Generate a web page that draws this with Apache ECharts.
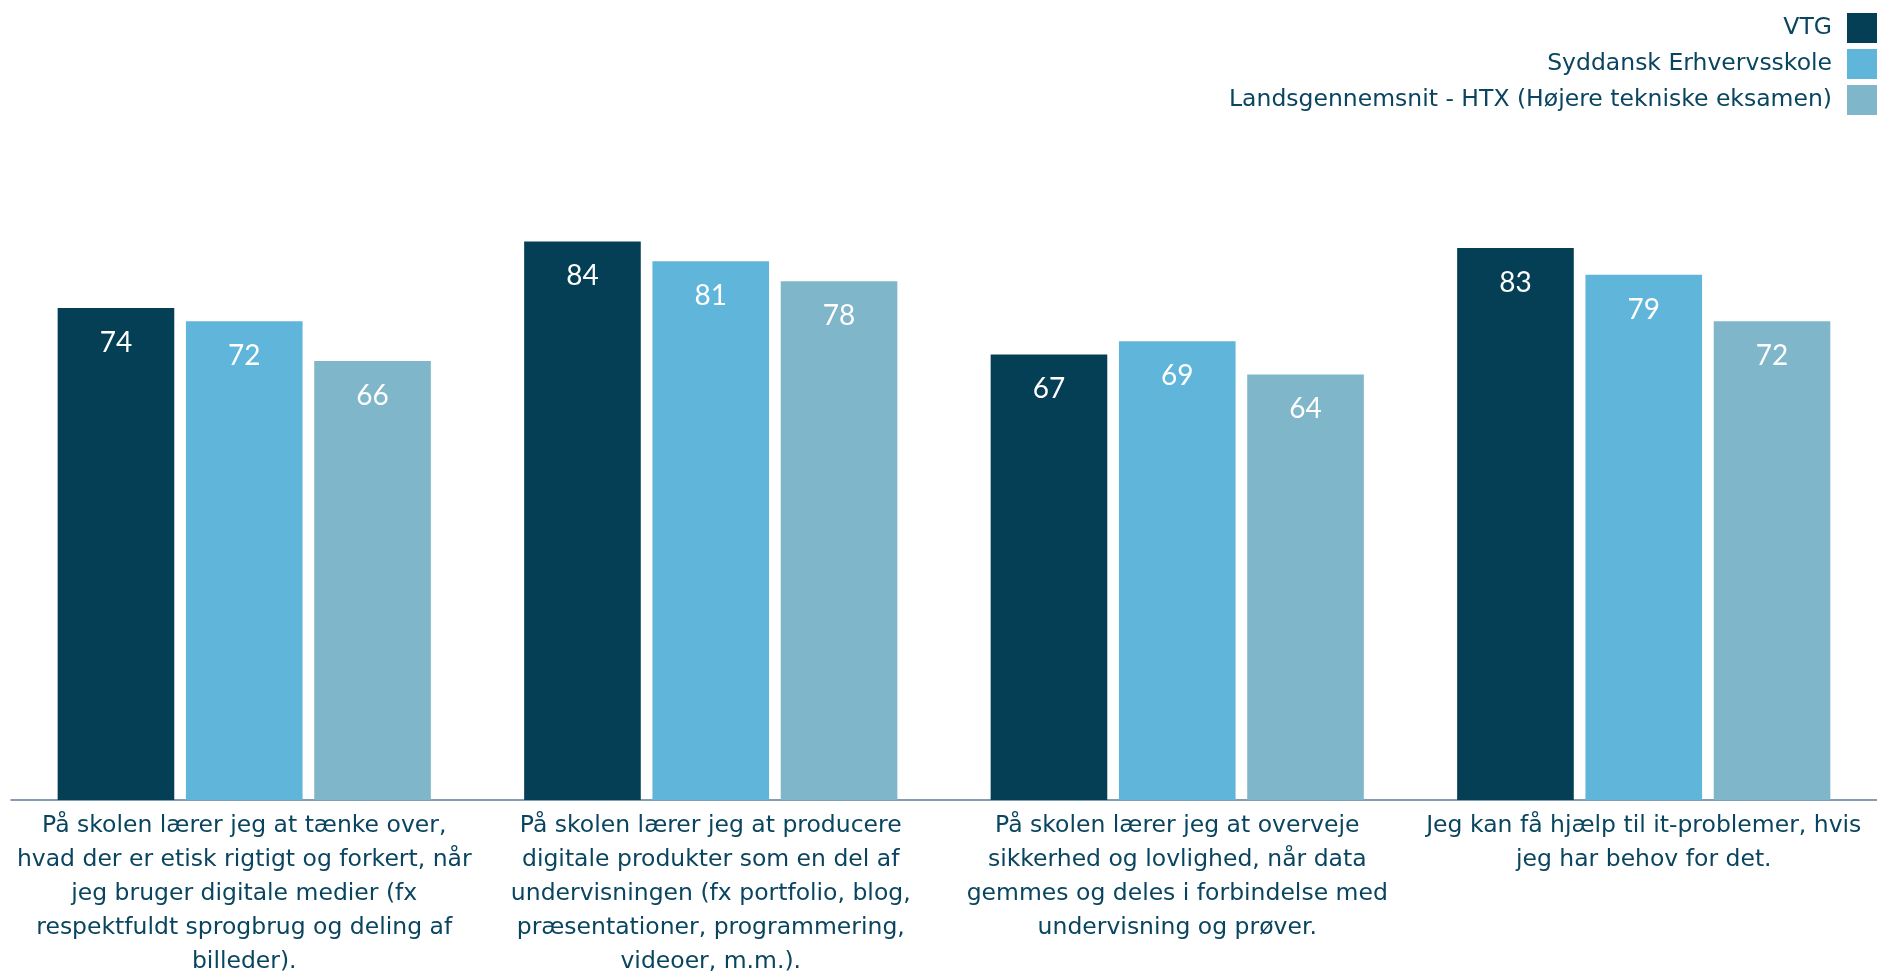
<!DOCTYPE html>
<html>
<head>
<meta charset="utf-8">
<script src="https://cdn.jsdelivr.net/npm/echarts@6/dist/echarts.min.js"></script>
<style>
	html, body { margin: 0; padding: 0; background: #fff; }
	#chart { width: 1877px; height: 976px; }
</style>
</head>
<body>
<div id="chart"></div>
<script>
const categories = [
	"På skolen lærer jeg at tænke over,\nhvad der er etisk rigtigt og forkert, når\njeg bruger digitale medier (fx\nrespektfuldt sprogbrug og deling af\nbilleder).",
	"På skolen lærer jeg at producere\ndigitale produkter som en del af\nundervisningen (fx portfolio, blog,\npræsentationer, programmering,\nvideoer, m.m.).",
	"På skolen lærer jeg at overveje\nsikkerhed og lovlighed, når data\ngemmes og deles i forbindelse med\nundervisning og prøver.",
	"Jeg kan få hjælp til it-problemer, hvis\njeg har behov for det."
];
const seriesNames = ["VTG", "Syddansk Erhvervsskole", "Landsgennemsnit - HTX (Højere tekniske eksamen)"];
const vtg = [74, 84, 67, 83];
const syddansk = [72, 81, 69, 79];
const landsgennemsnit = [66, 78, 64, 72];
const colors = ["#043f56", "#60b5da", "#80b6ca"];

const chart = echarts.init(document.getElementById("chart"));

function bar(name, data, color) {
	return {
		name: name,
		type: "bar",
		data: data,
		barGap: "10%",
		barCategoryGap: "20%",
		itemStyle: { color: color },
		label: {
			show: true,
			position: "insideTop",
			distance: 21,
			color: "#fff",
			fontFamily: "Lato",
			fontSize: 28
		}
	};
}

chart.setOption({
	animation: false,
	color: colors,
	legend: {
		orient: "vertical",
		right: 0,
		top: 8,
		padding: [5, 0, 5, 5],
		align: "right",
		itemWidth: 30,
		itemHeight: 30,
		itemGap: 6,
		icon: "rect",
		textStyle: { color: "#0a4560", fontFamily: "DejaVu Sans", fontSize: 23.5, padding: [0, 10, 0, 0] },
		data: seriesNames
	},
	grid: { left: 11, right: 0, top: 135, bottom: 176, outerBoundsMode: "none" },
	xAxis: {
		type: "category",
		data: categories,
		axisLine: { lineStyle: { color: "#5a7fa0", width: 1.5 } },
		axisTick: { show: false },
		axisLabel: {
			interval: 0,
			margin: 9,
			color: "#0a4560",
			fontFamily: "DejaVu Sans",
			fontSize: 23.5,
			lineHeight: 34,
			align: "center"
		}
	},
	yAxis: {
		type: "value",
		min: 0,
		max: 100,
		show: false
	},
	series: [
		bar(seriesNames[0], vtg, colors[0]),
		bar(seriesNames[1], syddansk, colors[1]),
		bar(seriesNames[2], landsgennemsnit, colors[2])
	]
});
</script>
</body>
</html>
